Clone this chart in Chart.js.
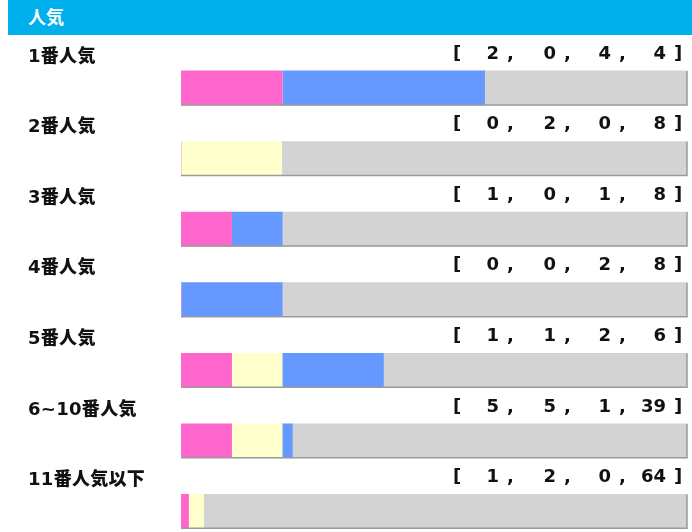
<!DOCTYPE html>
<html>
<head>
<meta charset="utf-8">
<script src="https://cdn.jsdelivr.net/npm/chart.js@4/dist/chart.umd.min.js"></script>
<style>
  body { margin: 0; background: #fff; }
  #wrap { position: relative; width: 692px; height: 532px; overflow: hidden; }
  #chart { position: absolute; left: 0; top: 0; }
  #head {
    position: absolute; left: 8px; top: 0; width: 684px; height: 35px;
    background: #00b0ec; color: #fff;
    font: bold 18px "DejaVu Sans", "Noto Sans CJK JP", sans-serif;
    line-height: 35px; box-sizing: border-box; padding-left: 20px;
  }
  .txt {
    position: absolute; height: 20px; line-height: 20px; white-space: nowrap;
    font: bold 18px "DejaVu Sans", "Noto Sans CJK JP", sans-serif; color: #111;
  }
  .lbl { font-weight: 900; letter-spacing: 0.3px; }
</style>
</head>
<body>
<div id="wrap">
  <canvas id="chart" width="692" height="532"></canvas>
  <div id="head">人気</div>
</div>
<script>
var labels = ['1番人気', '2番人気', '3番人気', '4番人気', '5番人気', '6~10番人気', '11番人気以下'];
var first  = [2, 0, 1, 0, 1, 5, 1];
var second = [0, 2, 0, 0, 1, 5, 2];
var third  = [4, 0, 1, 2, 2, 1, 0];
var other  = [4, 8, 8, 8, 6, 39, 64];

var colors = ['#ff66cc', '#ffffcc', '#6699ff', '#d3d3d3'];
var series = [first, second, third, other];

// each popularity group gets a blank row (for its text) and a bar row
var cats = [];
labels.forEach(function(l) { cats.push(l + ' '); cats.push(l); });

function pct(arr) {
    var out = [];
    arr.forEach(function(v, i) {
        var total = first[i] + second[i] + third[i] + other[i];
        out.push(null);
        out.push(v / total * 100);
    });
    return out;
}

var shadow = {
    id: 'shadow',
    afterDatasetsDraw: function(chart) {
        var ctx = chart.ctx;
        var area = chart.chartArea;
        var last = chart.getDatasetMeta(series.length - 1);
        ctx.save();
        ctx.strokeStyle = '#9a9a9a';
        ctx.lineWidth = 1.5;
        last.data.forEach(function(bar, i) {
            if (i % 2 === 0) return;
            var top = bar.y - bar.height / 2;
            var bottom = bar.y + bar.height / 2;
            ctx.beginPath();
            ctx.moveTo(area.left, bottom);
            ctx.lineTo(bar.x, bottom);
            ctx.lineTo(bar.x, top);
            ctx.stroke();
        });
        ctx.restore();
    }
};

var ctx = document.getElementById('chart').getContext('2d');
var chart = new Chart(ctx, {
    type: 'bar',
    data: {
        labels: cats,
        datasets: series.map(function(s, i) {
            return {
                data: pct(s),
                backgroundColor: colors[i],
                borderWidth: 0,
                barThickness: 34
            };
        })
    },
    options: {
        indexAxis: 'y',
        responsive: false,
        animation: false,
        layout: { padding: { top: 35, left: 181, right: 5, bottom: 3 } },
        plugins: { legend: { display: false }, tooltip: { enabled: false } },
        scales: {
            x: { stacked: true, min: 0, max: 100, display: false },
            y: { stacked: true, display: false }
        }
    },
    plugins: [shadow]
});

// text for each group, placed on the blank row above its bar
var wrap = document.getElementById('wrap');
function addText(str, cy, left, right, cls) {
    var d = document.createElement('div');
    d.className = 'txt' + (cls ? ' ' + cls : '');
    d.textContent = str;
    d.style.top = (cy - 10) + 'px';
    if (left != null) d.style.left = left + 'px';
    if (right != null) { d.style.right = (692 - right) + 'px'; d.style.textAlign = 'right'; }
    wrap.appendChild(d);
}
var numRight = [499, 556, 611, 666];
var commaLeft = [507, 564, 619];
labels.forEach(function(l, i) {
    var cy = chart.scales.y.getPixelForValue(i * 2) - 1;
    addText(l, cy - 1, 28, null, 'lbl');
    addText('[', cy, 453, null);
    series.forEach(function(s, j) {
        addText(String(s[i]), cy, null, numRight[j]);
        if (j < 3) addText(',', cy, commaLeft[j], null);
    });
    addText(']', cy, 674, null);
});
</script>
</body>
</html>
